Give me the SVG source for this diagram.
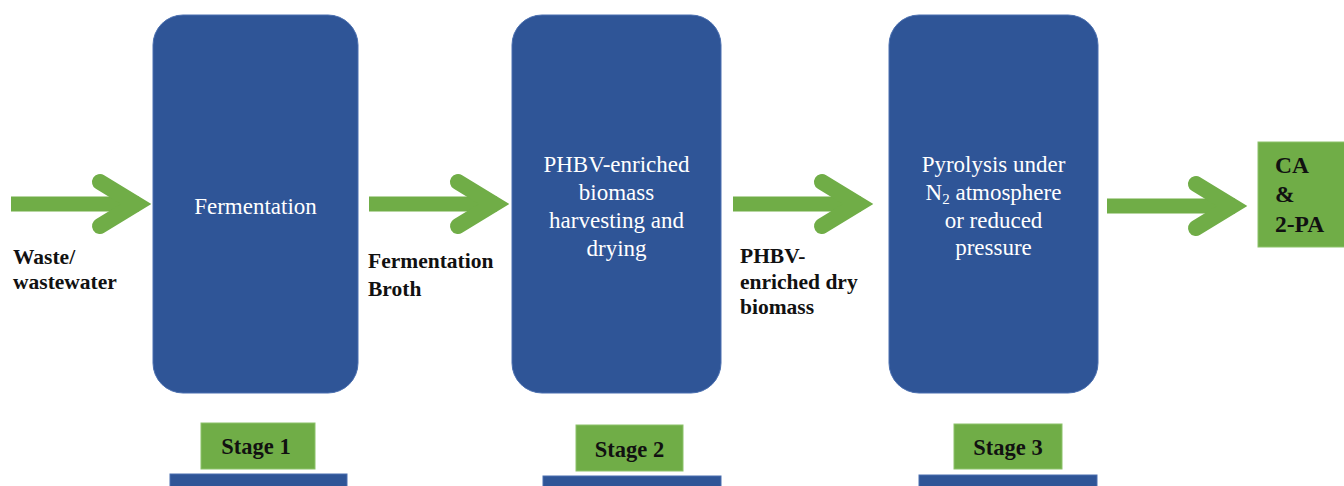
<svg xmlns="http://www.w3.org/2000/svg" width="1344" height="486" viewBox="0 0 1344 486">
<style>
.blue{fill:#2F5597;stroke:#4A6FB0;stroke-width:1}
.green{fill:#70AD47;stroke:#8CC26A;stroke-width:1}
.wt{font-family:"Liberation Serif","Times New Roman",serif;font-size:23px;fill:#FFFFFF;text-anchor:middle}
.bl{font-family:"Liberation Serif","Times New Roman",serif;font-size:21.5px;font-weight:bold;fill:#111111}
.pr{font-family:"Liberation Serif","Times New Roman",serif;font-size:23.5px;font-weight:bold;fill:#111111}
.st{font-family:"Liberation Serif","Times New Roman",serif;font-size:22.5px;font-weight:bold;fill:#111111;text-anchor:middle}
.ar{fill:none;stroke:#70AD47;stroke-width:16;stroke-linecap:round;stroke-linejoin:miter}
</style>
<defs>
<g id="arrow">
<rect x="-141" y="-7.5" width="128" height="15" fill="#70AD47"/>
<polyline class="ar" points="-52,-22 -16,0 -52,22"/>
</g>
</defs>
<rect width="1344" height="486" fill="#FFFFFF"/>
<g id="connectors">
<use href="#arrow" transform="translate(152,204)"/>
<use href="#arrow" transform="translate(510,204)"/>
<use href="#arrow" transform="translate(874,204)"/>
<use href="#arrow" transform="translate(1248,206)"/>
</g>
<g id="label-waste">
<text class="bl" x="13" y="264">Waste/</text>
<text class="bl" x="13" y="289">wastewater</text>
</g>
<g id="label-broth">
<text class="bl" x="368" y="268">Fermentation</text>
<text class="bl" x="368" y="296">Broth</text>
</g>
<g id="label-dry">
<text class="bl" x="740" y="263">PHBV-</text>
<text class="bl" x="740" y="289">enriched dry</text>
<text class="bl" x="740" y="314">biomass</text>
</g>
<g id="stage1-node">
<rect class="blue" x="153" y="15" width="205" height="378" rx="30"/>
<text class="wt" x="255.5" y="214">Fermentation</text>
</g>
<g id="stage2-node">
<rect class="blue" x="512" y="15" width="209" height="378" rx="30"/>
<text class="wt" x="616.5" y="172">PHBV-enriched</text>
<text class="wt" x="616.5" y="200">biomass</text>
<text class="wt" x="616.5" y="228">harvesting and</text>
<text class="wt" x="616.5" y="256">drying</text>
</g>
<g id="stage3-node">
<rect class="blue" x="889" y="15" width="209" height="378" rx="30"/>
<text class="wt" x="993.5" y="172">Pyrolysis under</text>
<text class="wt" x="993.5" y="200">N<tspan font-size="15" dy="4">2</tspan><tspan dy="-4"> atmosphere</tspan></text>
<text class="wt" x="993.5" y="228">or reduced</text>
<text class="wt" x="993.5" y="255">pressure</text>
</g>
<g id="product-node">
<rect class="green" x="1258" y="142" width="100" height="105"/>
<text class="pr" x="1275" y="173">CA</text>
<text class="pr" x="1275" y="202">&amp;</text>
<text class="pr" x="1275" y="232">2-PA</text>
</g>
<g id="stage1-label">
<rect class="green" x="201" y="423" width="114" height="46"/>
<text class="st" x="256" y="454">Stage 1</text>
<rect class="blue" x="170" y="474" width="177" height="30"/>
</g>
<g id="stage2-label">
<rect class="green" x="576" y="425" width="107" height="46"/>
<text class="st" x="629.5" y="457">Stage 2</text>
<rect class="blue" x="543" y="476" width="178" height="30"/>
</g>
<g id="stage3-label">
<rect class="green" x="954" y="424" width="108" height="45"/>
<text class="st" x="1008" y="455">Stage 3</text>
<rect class="blue" x="919" y="475" width="178" height="30"/>
</g>
</svg>
